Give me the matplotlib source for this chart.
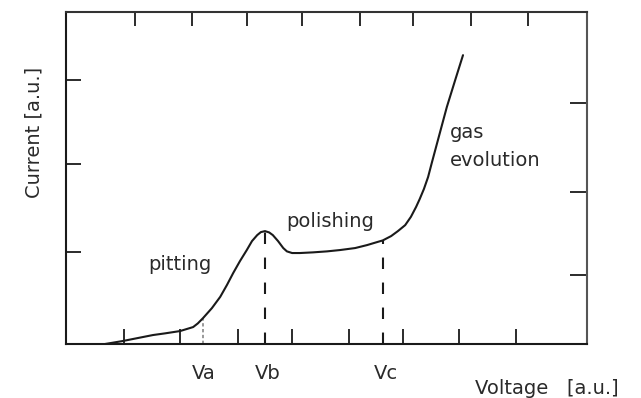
import matplotlib
matplotlib.use('Agg')
import matplotlib.pyplot as plt
import matplotlib.transforms as mtransforms

W, H = 641, 398

# polarisation curve, arbitrary units (0..10 on both axes)
voltage = [0.75, 1.09, 1.67, 1.90, 2.19, 2.44, 2.53, 2.63, 2.80, 2.96, 3.09,
           3.21, 3.34, 3.47, 3.57, 3.67, 3.74, 3.82, 3.90, 3.97, 4.07, 4.17,
           4.24, 4.34, 4.49, 4.74, 5.01, 5.26, 5.55, 5.78, 5.95, 6.08, 6.24,
           6.37, 6.51, 6.62, 6.72, 6.79, 6.87, 6.95, 7.02, 7.14, 7.31, 7.47,
           7.62]
current = [0.00, 0.09, 0.27, 0.32, 0.39, 0.51, 0.62, 0.78, 1.08, 1.42, 1.78,
           2.14, 2.50, 2.83, 3.10, 3.28, 3.37, 3.40, 3.36, 3.28, 3.10, 2.89,
           2.79, 2.74, 2.74, 2.76, 2.79, 2.83, 2.89, 2.98, 3.06, 3.12, 3.25,
           3.40, 3.58, 3.83, 4.13, 4.37, 4.67, 5.03, 5.45, 6.15, 7.14, 7.95,
           8.70]

# characteristic voltages and the current at each of them
v_marks = ['Va', 'Vb', 'Vc']
v_pos = [2.63, 3.82, 6.08]
v_cur = [0.78, 3.40, 3.12]

bottom_ticks = [1.11, 2.19, 3.30, 4.34, 5.43, 6.47, 7.54, 8.64]
top_ticks = [1.32, 2.42, 3.47, 4.53, 5.64, 6.66, 7.77, 8.87]
left_ticks = [2.77, 5.42, 7.95]
right_ticks = [2.08, 4.58, 7.26]


def px(x, y):
    # pixel position (from top-left) -> figure fraction
    return x / W, 1 - y / H


plt.rcParams['font.family'] = 'DejaVu Sans'
fig = plt.figure(figsize=(W / 100, H / 100), dpi=100)
ax = fig.add_axes([66 / W, 1 - 344 / H, (587 - 66) / W, (344 - 12) / H])
ax.set_xlim(0, 10)
ax.set_ylim(0, 10)

ink = '#1a1a1a'
ax.plot(voltage, current, color=ink, lw=1.5, solid_capstyle='round',
        solid_joinstyle='round', clip_on=False, zorder=3)

# Va is marked with a fine grey dotted drop line, Vb and Vc with long dashes
ax.plot([v_pos[0], v_pos[0]], [0, v_cur[0]], color='#888888', lw=1.2,
        linestyle=(0, (2, 1.5)))
for v, c in zip(v_pos[1:], v_cur[1:]):
    ax.plot([v, v], [0, c], color=ink, lw=1.5, linestyle=(0, (5.5, 6.5)))

for s in ax.spines.values():
    s.set_linewidth(1.5)
    s.set_color(ink)
ax.spines['right'].set_color('#555555')
ax.spines['top'].set_color('#333333')

ax.set_xticks(bottom_ticks)
ax.set_yticks(left_ticks)
ax.set_xticklabels([])
ax.set_yticklabels([])
ax.tick_params(direction='in', length=11, width=1.3, color=ink)

top = ax.secondary_xaxis('top')
top.set_xticks(top_ticks)
top.set_xticklabels([])
top.tick_params(direction='in', length=10, width=1.3, color=ink)
top.spines['top'].set_visible(False)

right = ax.secondary_yaxis('right')
right.set_yticks(right_ticks)
right.set_yticklabels([])
right.tick_params(direction='in', length=12, width=1.3, color=ink)
right.spines['right'].set_visible(False)

fs = 14
txt = '#2a2a2a'
fig.text(*px(34, 132), 'Current [a.u.]', rotation=90, ha='center',
         va='center', fontsize=fs, color=txt)
fig.text(*px(475, 394), 'Voltage   [a.u.]', ha='left', va='baseline',
         fontsize=fs, color=txt)

trans = mtransforms.blended_transform_factory(ax.transData, fig.transFigure)
label_dx = [0.02, 0.05, 0.06]
for name, v, dx in zip(v_marks, v_pos, label_dx):
    ax.text(v + dx, 1 - 379 / H, name, transform=trans, ha='center',
            va='baseline', fontsize=fs, color=txt, clip_on=False)

fig.text(*px(148, 270), 'pitting', ha='left', va='baseline', fontsize=fs,
         color=txt)
fig.text(*px(286, 227), 'polishing', ha='left', va='baseline', fontsize=fs,
         color=txt)
fig.text(*px(450, 138), 'gas', ha='left', va='baseline', fontsize=fs,
         color=txt)
fig.text(*px(450, 166), 'evolution', ha='left', va='baseline', fontsize=fs,
         color=txt)

fig.savefig('out.png', dpi=100)
